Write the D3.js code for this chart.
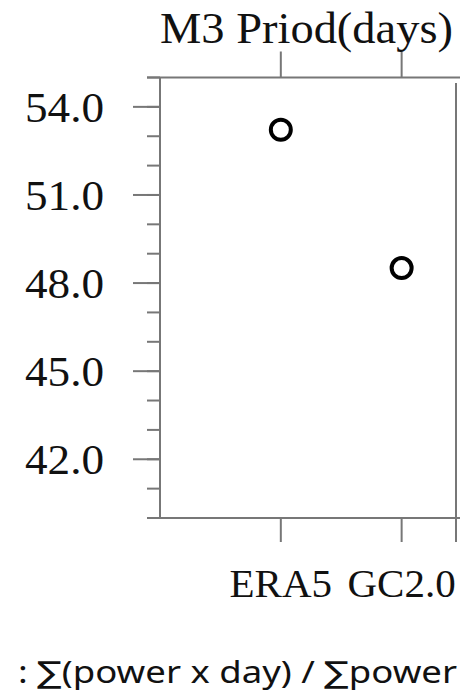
<!DOCTYPE html>
<html>
<head>
<meta charset="utf-8">
<style>
body { margin: 0; background: #fff; }
.serif { font-family: "Liberation Serif", "Times New Roman", serif; fill: #111; }
.note { font-family: "Noto Sans", "DejaVu Sans", sans-serif; fill: #111; }
.frame line { stroke: #777; stroke-width: 2; }
</style>
</head>
<body>
<svg width="465" height="699"></svg>
<script src="https://d3js.org/d3.v7.min.js"></script>
<script>

// data
var models = ["ERA5", "GC2.0"];
var period = [53.22, 48.51];
var yTicks = [42, 45, 48, 51, 54];
var yMinor = [40, 41, 42, 43, 44, 45, 46, 47, 48, 49, 50, 51, 52, 53, 54, 55];

var svg = d3.select("svg");

var x = d3.scaleLinear().domain([-1, 1.45]).range([160, 456]),
    y = d3.scaleLinear().domain([40, 55]).range([518, 77.5]);

var frame = svg.append("g").attr("class", "frame");

// left axis + minor ticks
frame.append("line").attr("x1", 160).attr("x2", 160).attr("y1", y(55)).attr("y2", y(40));
frame.selectAll(".minor").data(yMinor).enter().append("line")
    .attr("x1", 147).attr("x2", 160)
    .attr("y1", function(d) { return y(d); })
    .attr("y2", function(d) { return y(d); });
frame.selectAll(".major").data(yTicks).enter().append("line")
    .attr("x1", 133).attr("x2", 160)
    .attr("y1", function(d) { return y(d); })
    .attr("y2", function(d) { return y(d); });

// top + bottom axis
frame.append("line").attr("x1", 147).attr("x2", 460).attr("y1", y(55)).attr("y2", y(55));
frame.append("line").attr("x1", 147).attr("x2", 460).attr("y1", y(40)).attr("y2", y(40));
// right side
frame.append("line").attr("x1", 456).attr("x2", 456).attr("y1", 83).attr("y2", 542);

// x ticks top and bottom
models.forEach(function(m, i) {
  frame.append("line").attr("x1", x(i)).attr("x2", x(i)).attr("y1", y(55)).attr("y2", y(55) - 26);
  frame.append("line").attr("x1", x(i)).attr("x2", x(i)).attr("y1", y(40)).attr("y2", y(40) + 24);
});

// y labels
svg.selectAll(".ylab").data(yTicks).enter().append("text")
    .attr("class", "serif")
    .attr("x", 25)
    .attr("y", function(d) { return y(d) + 15; })
    .attr("font-size", 42)
    .attr("textLength", 79)
    .attr("lengthAdjust", "spacingAndGlyphs")
    .text(function(d) { return d.toFixed(1); });

// x labels
svg.selectAll(".xlab").data(models).enter().append("text")
    .attr("class", "serif")
    .attr("x", function(d, i) { return x(i); })
    .attr("y", 597)
    .attr("font-size", 41)
    .attr("text-anchor", "middle")
    .text(function(d) { return d; });

// title
svg.append("text")
    .attr("class", "serif")
    .attr("x", 160)
    .attr("y", 43)
    .attr("font-size", 44)
    .attr("textLength", 293)
    .attr("lengthAdjust", "spacingAndGlyphs")
    .text("M3 Priod(days)");

// points
svg.selectAll(".pt").data(period).enter().append("circle")
    .attr("cx", function(d, i) { return x(i); })
    .attr("cy", function(d) { return y(d); })
    .attr("r", 10)
    .attr("fill", "none")
    .attr("stroke", "#000")
    .attr("stroke-width", 4);

// footnote
svg.append("text")
    .attr("class", "note")
    .attr("x", 18)
    .attr("y", 683)
    .attr("font-size", 30)
    .attr("textLength", 439)
    .attr("lengthAdjust", "spacingAndGlyphs")
    .text(": \u2211(power x day) / \u2211power");

</script>
</body>
</html>
